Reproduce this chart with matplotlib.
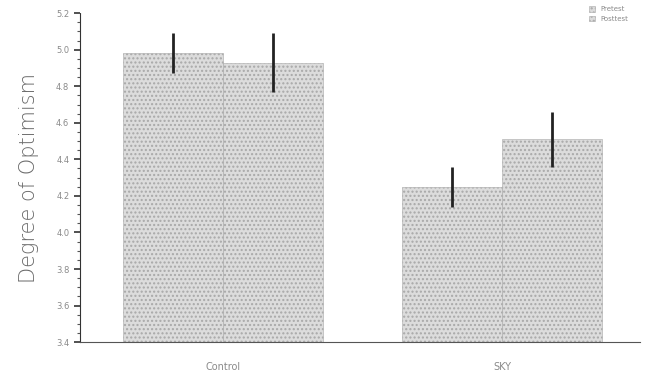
import numpy as np
import matplotlib
matplotlib.use("Agg")
import matplotlib.pyplot as plt
from matplotlib.ticker import MultipleLocator

groups = ["Control", "SKY"]
series = ["Pretest", "Posttest"]
pretest = [4.98, 4.25]
posttest = [4.93, 4.51]
pre_err = [0.11, 0.11]
post_err = [0.16, 0.15]
yticks = [3.4, 3.6, 3.8, 4.0, 4.2, 4.4, 4.6, 4.8, 5.0, 5.2]

fig = plt.figure(figsize=(6.48, 3.87), dpi=100)
ax = fig.add_axes([0.123, 0.116, 0.865, 0.85])

x = np.arange(len(groups))
w = 0.358
txt = "#8a8a8a"

for off, vals, errs, lab in [(-w / 2, pretest, pre_err, series[0]),
                             (w / 2, posttest, post_err, series[1])]:
    ax.bar(x + off, vals, w, bottom=0, color="#dcdcdc", edgecolor="#a8a8a8",
           hatch="....", linewidth=0.4, label=lab, zorder=2)
    ax.errorbar(x + off, vals, yerr=errs, fmt="none", ecolor="#222222",
                elinewidth=2, capsize=0, zorder=3)

ax.set_ylim(3.4, 5.2)
ax.set_xlim(-0.513, 1.495)
ax.set_yticks(yticks)
ax.set_yticklabels(["%.1f" % v for v in yticks])
ax.yaxis.set_minor_locator(MultipleLocator(0.05))
ax.set_xticks(x)
ax.set_xticklabels(groups)
ax.tick_params(axis="y", which="major", length=4, width=1.2, colors="#333333",
               labelcolor=txt, labelsize=6)
ax.tick_params(axis="y", which="minor", length=2, width=0.8, colors="#555555")
ax.tick_params(axis="x", length=0, labelcolor=txt, labelsize=7, pad=14)

for s in ["top", "right"]:
    ax.spines[s].set_visible(False)
ax.spines["left"].set_color("#333333")
ax.spines["left"].set_linestyle((0, (2, 1)))
ax.spines["bottom"].set_color("#555555")
ax.spines["bottom"].set_linestyle((0, (3, 1)))

ax.set_ylabel("Degree of Optimism", fontsize=15, color="#6a6a6a",
              fontweight="light", labelpad=12)

leg = ax.legend(loc="upper right", bbox_to_anchor=(0.99, 1.04), frameon=False,
                fontsize=5, handlelength=0.8, handleheight=0.8, labelcolor=txt)

fig.savefig("out.png", dpi=100)
